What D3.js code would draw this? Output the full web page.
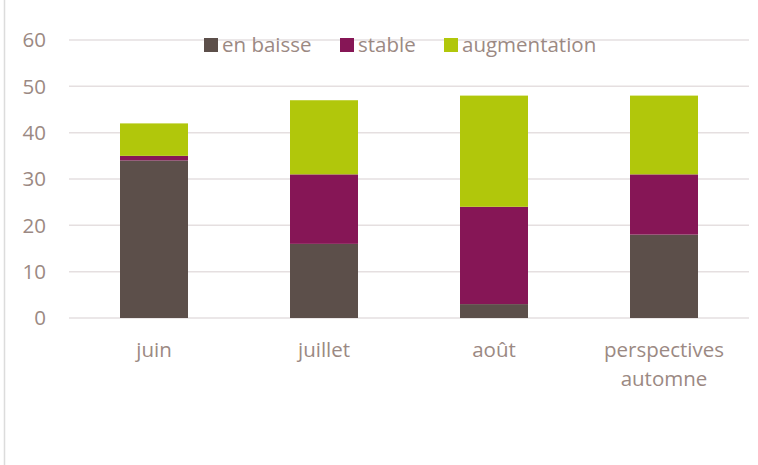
<!DOCTYPE html>
<html><head><meta charset="utf-8">
<script src="https://cdn.jsdelivr.net/npm/d3@7"></script>
<style>body{margin:0;background:#fff}svg{display:block}</style>
</head><body>
<script>
const categories = [["juin"], ["juillet"], ["août"], ["perspectives", "automne"]];
const seriesNames = ["en baisse", "stable", "augmentation"];
const enBaisse = [34, 16, 3, 18];
const stable = [1, 15, 21, 13];
const augmentation = [7, 16, 24, 17];
const yTicks = [0, 10, 20, 30, 40, 50, 60];
const colors = ["#5c4f4a", "#861656", "#b1c70b"];

const W = 758, H = 465;
const svg = d3.select("body").append("svg").attr("width", W).attr("height", H);
const font = "'Open Sans', sans-serif";
const fs = 20.5;
const txt = "#9b8983";

svg.append("line").attr("x1", 4.5).attr("x2", 4.5).attr("y1", 0).attr("y2", H)
  .attr("stroke", "#dcdcdc").attr("stroke-width", 1.5);

const x = d3.scaleBand().domain(d3.range(categories.length)).range([69, 749])
  .paddingInner(0.6).paddingOuter(0.3);
const y = d3.scaleLinear().domain([0, 60]).range([318, 40]);

const grid = svg.append("g");
yTicks.forEach(t => {
  grid.append("line").attr("x1", 69).attr("x2", 749).attr("y1", y(t)).attr("y2", y(t))
    .attr("stroke", "#e5dfe0").attr("stroke-width", 1.5);
  grid.append("text").attr("x", 46).attr("y", y(t)).attr("dy", "0.35em")
    .attr("text-anchor", "end").attr("font-family", font).attr("font-size", fs)
    .attr("fill", txt).text(t);
});

const rows = categories.map((c, i) => ({i, "en baisse": enBaisse[i], "stable": stable[i], "augmentation": augmentation[i]}));
const stack = d3.stack().keys(seriesNames)(rows);
stack.forEach((s, k) => {
  svg.append("g").attr("fill", colors[k]).selectAll("rect").data(s).join("rect")
    .attr("x", d => x(d.data.i)).attr("width", x.bandwidth())
    .attr("y", d => y(d[1])).attr("height", d => y(d[0]) - y(d[1]));
});

categories.forEach((c, i) => {
  const t = svg.append("text").attr("text-anchor", "middle").attr("font-family", font)
    .attr("font-size", fs).attr("fill", txt);
  c.forEach((line, j) => {
    t.append("tspan").attr("x", x(i) + x.bandwidth() / 2).attr("y", 357 + j * 29).text(line);
  });
});

const legendX = [204, 340, 444];
seriesNames.forEach((n, k) => {
  svg.append("rect").attr("x", legendX[k]).attr("y", 38).attr("width", 14).attr("height", 14).attr("fill", colors[k]);
  svg.append("text").attr("x", legendX[k] + 18).attr("y", 52)
    .attr("font-family", font).attr("font-size", fs).attr("fill", txt).text(n);
});
</script>
</body></html>
